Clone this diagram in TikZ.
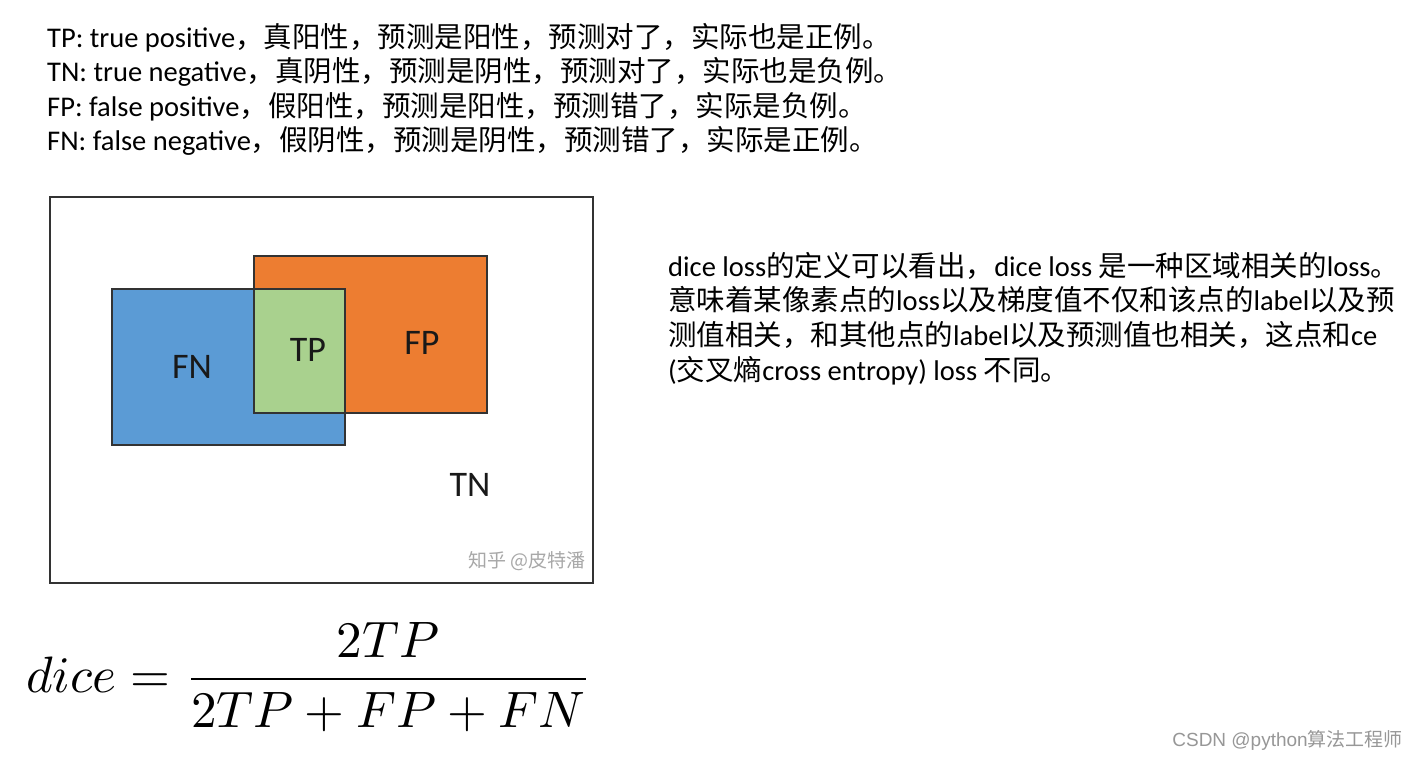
\documentclass[tikz,border=0pt]{standalone}
\usepackage{fontspec}
\setmainfont{Carlito}
\newfontfamily\cjk{Noto Sans CJK SC}
\newfontfamily\arialf{Liberation Sans}
\definecolor{fnblue}{HTML}{5B9BD5}
\definecolor{fporange}{HTML}{ED7D31}
\definecolor{tpgreen}{HTML}{A9D18E}
\definecolor{edge}{HTML}{333333}
\definecolor{wm}{HTML}{A8A8A8}
\tikzset{
  txt/.style={anchor=base west, inner sep=0pt, font=\fontsize{28.5}{34}\selectfont, text=black},
  lbl/.style={inner sep=0pt, font=\fontsize{36}{38}\selectfont, text=black!90},
  region/.style={draw=edge, line width=1.5pt}
}
\begin{document}
\begin{tikzpicture}[x=1pt,y=-1pt]
\useasboundingbox[fill=white] (0,0) rectangle (1417,758);
% top definitions
\node[txt] (l1) at (47,47.5) {TP: true positive{\cjk ，真阳性，预测是阳性，预测对了，实际也是正例。}};
\node[txt] (l2) at (47,81.5) {TN: true negative{\cjk ，真阴性，预测是阴性，预测对了，实际也是负例。}};
\node[txt] (l3) at (47,116) {FP: false positive{\cjk ，假阳性，预测是阳性，预测错了，实际是负例。}};
\node[txt] (l4) at (47,150.5) {FN: false negative{\cjk ，假阴性，预测是阴性，预测错了，实际是正例。}};
% picture
\draw[draw=edge, line width=1.5pt] (50,197) rectangle (593,583);
\fill[fnblue] (112,289) rectangle (345,445);
\fill[fporange] (254,256) rectangle (487,413);
\fill[tpgreen] (254,289) rectangle (345,413);
\draw[region] (112,289) rectangle (345,445);
\draw[region] (254,256) rectangle (487,413);
\node[lbl] (fn) at (192,367) {FN};
\node[lbl] (tp) at (308,350) {TP};
\node[lbl] (fp) at (422,343) {FP};
\node[lbl] (tn) at (470,485) {TN};
\node[inner sep=0pt, text=wm, font=\cjk\fontsize{19}{20}\selectfont] (zh) at (527,561) {知乎 @皮特潘};
% right text
\node[txt] (r1) at (668,276.5) {dice loss{\cjk 的定义可以看出，}dice loss {\cjk 是一种区域相关的}loss{\cjk 。}};
\node[txt] (r2) at (668,310.5) {{\cjk 意味着某像素点的}loss{\cjk 以及梯度值不仅和该点的}label{\cjk 以及预}};
\node[txt] (r3) at (668,345.5) {{\cjk 测值相关，和其他点的}label{\cjk 以及预测值也相关，这点和}ce};
\node[txt] (r4) at (668,380.5) {({\cjk 交叉熵}cross entropy) loss {\cjk 不同。}};
% formula
\node[inner sep=0pt, scale=5.12] (eq) at (309,677) {$\displaystyle dice=\frac{2TP}{2TP+FP+FN}$};
% watermark
\node[anchor=base east, inner sep=0pt, text=wm!90!black, font=\arialf\fontsize{19}{21}\selectfont] (csdn) at (1403,746) {CSDN @python{\cjk 算法工程师}};
\end{tikzpicture}
\end{document}
